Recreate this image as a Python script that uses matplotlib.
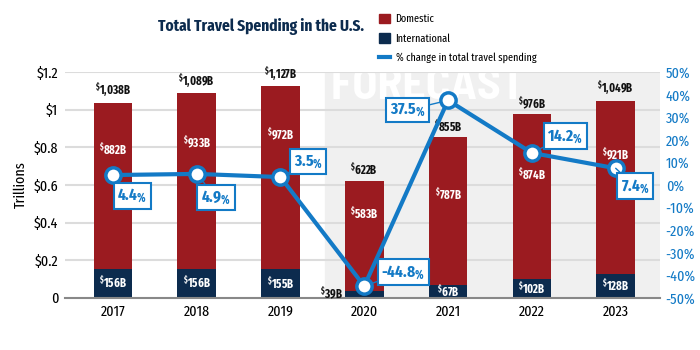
import matplotlib
matplotlib.use("Agg")
import matplotlib.pyplot as plt
from matplotlib.patches import Patch
from matplotlib.lines import Line2D

FONT = "Fira Sans Extra Condensed"
plt.rcParams['font.family'] = [FONT, 'DejaVu Sans']
plt.rcParams['mathtext.fontset'] = 'custom'
plt.rcParams['mathtext.rm'] = FONT
plt.rcParams['mathtext.bf'] = FONT + ':bold'

years = ["2017", "2018", "2019", "2020", "2021", "2022", "2023"]
domestic = [882, 933, 972, 583, 787, 874, 921]          # $B
international = [156, 156, 155, 39, 67, 102, 128]      # $B
totals = [1038, 1089, 1127, 622, 855, 976, 1049]       # $B
pct_change = [4.4, 4.9, 3.5, -44.8, 37.5, 14.2, 7.4]

# label placement (layout only): box offsets in points, domestic label height as share of bar
label_offsets = [(14, -15), (14, -17), (20, 11), (28, 10), (-29, -7), (24, 12), (14, -13)]
dom_label_frac = [0.76, 0.76, 0.77, 0.72, 0.64, 0.67, 0.73]

RED = "#9b1b20"
NAVY = "#0c2b4e"
BLUE = "#137ac6"
SHADE = "#f0f0f0"

fig = plt.figure(figsize=(7, 3.5), dpi=100)
ax = fig.add_axes([0.093, 0.149, 0.850, 0.645])
ax2 = ax.twinx()

x = list(range(len(years)))
dom_t = [d / 1000 for d in domestic]
int_t = [i / 1000 for i in international]
tot_t = [d + i for d, i in zip(dom_t, int_t)]

ax.set_xlim(-0.57, 6.53)
ax.set_ylim(0, 1.2)
ax.axvspan(2.53, 6.53, color=SHADE, zorder=0)
ax.text(2.6, 1.118, "FORECAST", color="white", fontsize=33, fontweight="bold",
        family="Barlow Semi Condensed", va="center", ha="left", zorder=1)

for yv in [0.2, 0.4, 0.6, 0.8, 1.0, 1.2]:
    ax.axhline(yv, color="#dcdcdc", lw=1.5, zorder=1)

ax.bar(x, int_t, width=0.46, color=NAVY, zorder=2)
ax.bar(x, dom_t, width=0.46, bottom=int_t, color=RED, zorder=2)

SUP = r"$^{\mathbf{\$}}$"
for i in x:
    ax.text(i, tot_t[i] + 0.012, SUP + f"{totals[i]:,}B", ha="center", va="bottom",
            fontsize=8.5, fontweight="bold", color="#111111", zorder=3)
    ax.text(i, tot_t[i] * dom_label_frac[i], SUP + f"{domestic[i]}B", ha="center", va="center",
            fontsize=8.5, fontweight="bold", color="white", zorder=3)
    if international[i] < 50:
        ax.text(i - 0.25, 0.025, SUP + f"{international[i]}B", ha="right", va="center",
                fontsize=8.5, fontweight="bold", color="#111111", zorder=3)
    else:
        ax.text(i, int_t[i] / 2, SUP + f"{international[i]}B", ha="center", va="center",
                fontsize=8.5, fontweight="bold", color="white", zorder=3)

ax.set_yticks([0, 0.2, 0.4, 0.6, 0.8, 1.0, 1.2])
ax.set_yticklabels(["0", "$0.2", "$0.4", "$0.6", "$0.8", "$1", "$1.2"], fontsize=11)
ax.set_xticks(x)
ax.set_xticklabels(years, fontsize=11)
ax.tick_params(length=0, pad=5)
ax.set_ylabel("Trillions", fontsize=11, labelpad=4)
for s in ["top", "left", "right"]:
    ax.spines[s].set_visible(False)
ax.spines["bottom"].set_color("#888888")
ax.spines["bottom"].set_linewidth(1.5)

ax2.set_ylim(-50, 50)
ax2.plot(x, pct_change, color=BLUE, lw=3, marker="o", markersize=11,
         markerfacecolor="white", markeredgecolor=BLUE, markeredgewidth=2.5, zorder=5)
ax2.set_yticks(range(-50, 51, 10))
ax2.set_yticklabels([f"{v}%" for v in range(-50, 51, 10)], fontsize=11, color=BLUE)
ax2.tick_params(length=0, pad=4)
for s in ["top", "left", "right", "bottom"]:
    ax2.spines[s].set_visible(False)

for i in x:
    ax2.annotate(f"{pct_change[i]}" + r"$\mathbf{_{\%}}$", xy=(i, pct_change[i]),
                 xytext=label_offsets[i], textcoords="offset points",
                 ha="center", va="center", fontsize=12, fontweight="bold", color=BLUE,
                 bbox=dict(boxstyle="square,pad=0.22", fc="white", ec=BLUE, lw=1.5),
                 arrowprops=dict(arrowstyle="-", color=BLUE, lw=1, shrinkA=0, shrinkB=6),
                 zorder=6)

fig.text(0.373, 0.925, "Total Travel Spending in the U.S.", ha="center", va="center",
         fontsize=12, fontweight="bold", color=NAVY)

handles = [Patch(color=RED), Patch(color=NAVY), Line2D([0], [0], color=BLUE, lw=3)]
fig.legend(handles, ["Domestic", "International", "% change in total travel spending"],
           loc="upper left", bbox_to_anchor=(0.527, 0.99), frameon=False, fontsize=8,
           handlelength=1.0, handleheight=1.0, labelspacing=0.75, handletextpad=0.5)

fig.savefig("out.png", dpi=100)
